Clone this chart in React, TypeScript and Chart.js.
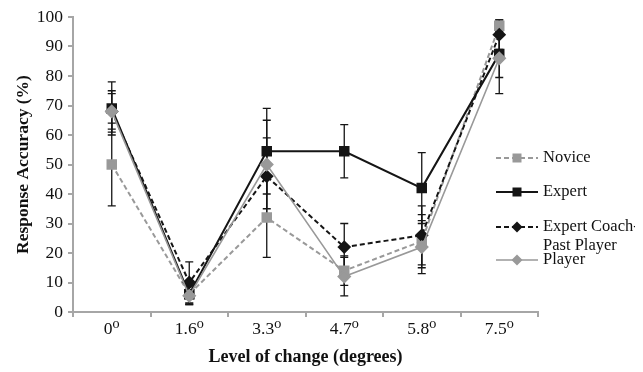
import React, { useEffect, useRef } from "react";
import { Chart, registerables } from "chart.js";
Chart.register(...registerables);

const categories = ["0\u2070", "1.6\u2070", "3.3\u2070", "4.7\u2070", "5.8\u2070", "7.5\u2070"];
const novice = [50, 6, 32, 14, 24, 97];
const noviceErr = [14, 3, 13.5, 5, 9, 2];
const expert = [69, 6, 54.5, 54.5, 42, 87.5];
const expertErr = [9, 3.5, 14.5, 9, 12, 8];
const coach = [68, 10, 46, 22, 26, 94];
const coachErr = [7, 7, 13, 8, 10, 5];
const player = [68, 5.5, 50, 12, 22, 86];
const playerErr = [6, 3, 15, 6.5, 9, 12];
const yTicks = [0, 10, 20, 30, 40, 50, 60, 70, 80, 90, 100];

const GRAY = "#999999";
const BLACK = "#151515";
const FONT = "'Liberation Serif', 'DejaVu Serif', serif";

const errors = [noviceErr, expertErr, coachErr, playerErr];

const errorBarPlugin = {
  id: "errorBars",
  beforeDatasetsDraw(chart: any) {
    const ctx = chart.ctx;
    const y = chart.scales.y;
    ctx.save();
    ctx.strokeStyle = BLACK;
    ctx.lineWidth = 1.3;
    chart.data.datasets.forEach((ds: any, i: number) => {
      const meta = chart.getDatasetMeta(i);
      meta.data.forEach((pt: any, j: number) => {
        const v = ds.data[j];
        const e = errors[i][j];
        const top = y.getPixelForValue(Math.min(v + e, 100));
        const bot = y.getPixelForValue(v - e);
        const x = pt.x;
        ctx.beginPath();
        ctx.moveTo(x, top);
        ctx.lineTo(x, bot);
        ctx.moveTo(x - 4, top);
        ctx.lineTo(x + 4, top);
        ctx.moveTo(x - 4, bot);
        ctx.lineTo(x + 4, bot);
        ctx.stroke();
      });
    });
    ctx.restore();
  },
};

const legendItems = [
  { ds: 0, lines: ["Novice"], y: 150 },
  { ds: 1, lines: ["Expert"], y: 184 },
  { ds: 2, lines: ["Expert Coach-", "Past Player"], y: 219 },
  { ds: 3, lines: ["Player"], y: 252 },
];

const legendPlugin = {
  id: "customLegend",
  afterDraw(chart: any) {
    const ctx = chart.ctx;
    ctx.save();
    legendItems.forEach((it) => {
      const ds = chart.data.datasets[it.ds];
      const x0 = 488;
      const x1 = 530;
      ctx.strokeStyle = ds.borderColor;
      ctx.lineWidth = ds.borderWidth;
      ctx.setLineDash(ds.borderDash || []);
      ctx.beginPath();
      ctx.moveTo(x0, it.y);
      ctx.lineTo(x1, it.y);
      ctx.stroke();
      ctx.setLineDash([]);
      ctx.fillStyle = ds.pointBackgroundColor;
      const cx = (x0 + x1) / 2;
      ctx.beginPath();
      if (ds.pointStyle === "rect") {
        ctx.rect(cx - 4.5, it.y - 4.5, 9, 9);
      } else {
        ctx.moveTo(cx, it.y - 5.5);
        ctx.lineTo(cx + 5.5, it.y);
        ctx.lineTo(cx, it.y + 5.5);
        ctx.lineTo(cx - 5.5, it.y);
        ctx.closePath();
      }
      ctx.fill();
      ctx.fillStyle = "#111";
      ctx.font = "16.5px " + FONT;
      ctx.textBaseline = "middle";
      ctx.textAlign = "left";
      it.lines.forEach((t, k) => {
        ctx.fillText(t, 535, it.y + k * 19);
      });
    });
    ctx.restore();
  },
};

export default function App() {
  const ref = useRef<HTMLCanvasElement>(null);
  useEffect(() => {
    if (!ref.current) return;
    const chart = new Chart(ref.current, {
      type: "line",
      data: {
        labels: categories,
        datasets: [
          {
            label: "Novice",
            data: novice,
            borderColor: GRAY,
            backgroundColor: GRAY,
            pointBackgroundColor: GRAY,
            pointBorderColor: GRAY,
            borderWidth: 2,
            borderDash: [5, 3],
            pointStyle: "rect",
            pointRadius: 6,
            order: 4,
          },
          {
            label: "Expert",
            data: expert,
            borderColor: BLACK,
            backgroundColor: BLACK,
            pointBackgroundColor: BLACK,
            pointBorderColor: BLACK,
            borderWidth: 2,
            pointStyle: "rect",
            pointRadius: 6,
            order: 3,
          },
          {
            label: "Expert Coach-Past Player",
            data: coach,
            borderColor: BLACK,
            backgroundColor: BLACK,
            pointBackgroundColor: BLACK,
            pointBorderColor: BLACK,
            borderWidth: 2,
            borderDash: [5, 3],
            pointStyle: "rectRot",
            pointRadius: 5.5,
            order: 2,
          },
          {
            label: "Player",
            data: player,
            borderColor: GRAY,
            backgroundColor: GRAY,
            pointBackgroundColor: GRAY,
            pointBorderColor: GRAY,
            borderWidth: 1.6,
            pointStyle: "rectRot",
            pointRadius: 6,
            order: 1,
          },
        ],
      },
      options: {
        animation: false,
        responsive: false,
        maintainAspectRatio: false,
        layout: { padding: { top: 9, right: 105, left: 0, bottom: 0 } },
        plugins: {
          legend: { display: false },
          tooltip: { enabled: false },
        },
        scales: {
          x: {
            type: "category",
            offset: true,
            grid: {
              display: true,
              offset: true,
              drawOnChartArea: false,
              drawTicks: true,
              tickLength: 5,
              color: "#a6a6a6",
              lineWidth: 2,
            },
            border: { display: true, color: "#a6a6a6", width: 2 },
            ticks: {
              color: "#111",
              font: { family: FONT, size: 17.5 },
              padding: 2,
              maxRotation: 0,
            },
            title: {
              display: true,
              text: "Level of change (degrees)",
              color: "#111",
              font: { family: FONT, size: 18, weight: "bold" },
              padding: { top: 10, bottom: 0 },
            },
            afterFit(scale: any) {
              scale.height = 56;
            },
          },
          y: {
            min: 0,
            max: 100,
            afterBuildTicks(scale: any) {
              scale.ticks = yTicks.map((v) => ({ value: v }));
            },
            grid: {
              display: true,
              drawOnChartArea: false,
              drawTicks: true,
              tickLength: 5,
              color: "#a6a6a6",
              lineWidth: 2,
            },
            border: { display: true, color: "#a6a6a6", width: 2 },
            ticks: {
              color: "#111",
              font: { family: FONT, size: 17.5 },
              padding: 5,
            },
            title: {
              display: true,
              text: "Response Accuracy (%)",
              color: "#111",
              font: { family: FONT, size: 17.5, weight: "bold" },
              padding: { top: 5, bottom: 2 },
            },
            afterFit(scale: any) {
              scale.width = 65;
              scale.paddingTop = 0;
            },
          },
        },
      },
      plugins: [errorBarPlugin, legendPlugin],
    } as any);
    return () => chart.destroy();
  }, []);
  return (
    <div style={{ width: 635, height: 360 }}>
      <canvas ref={ref} width={635} height={360} style={{ width: 635, height: 360, display: "block" }} />
    </div>
  );
}
